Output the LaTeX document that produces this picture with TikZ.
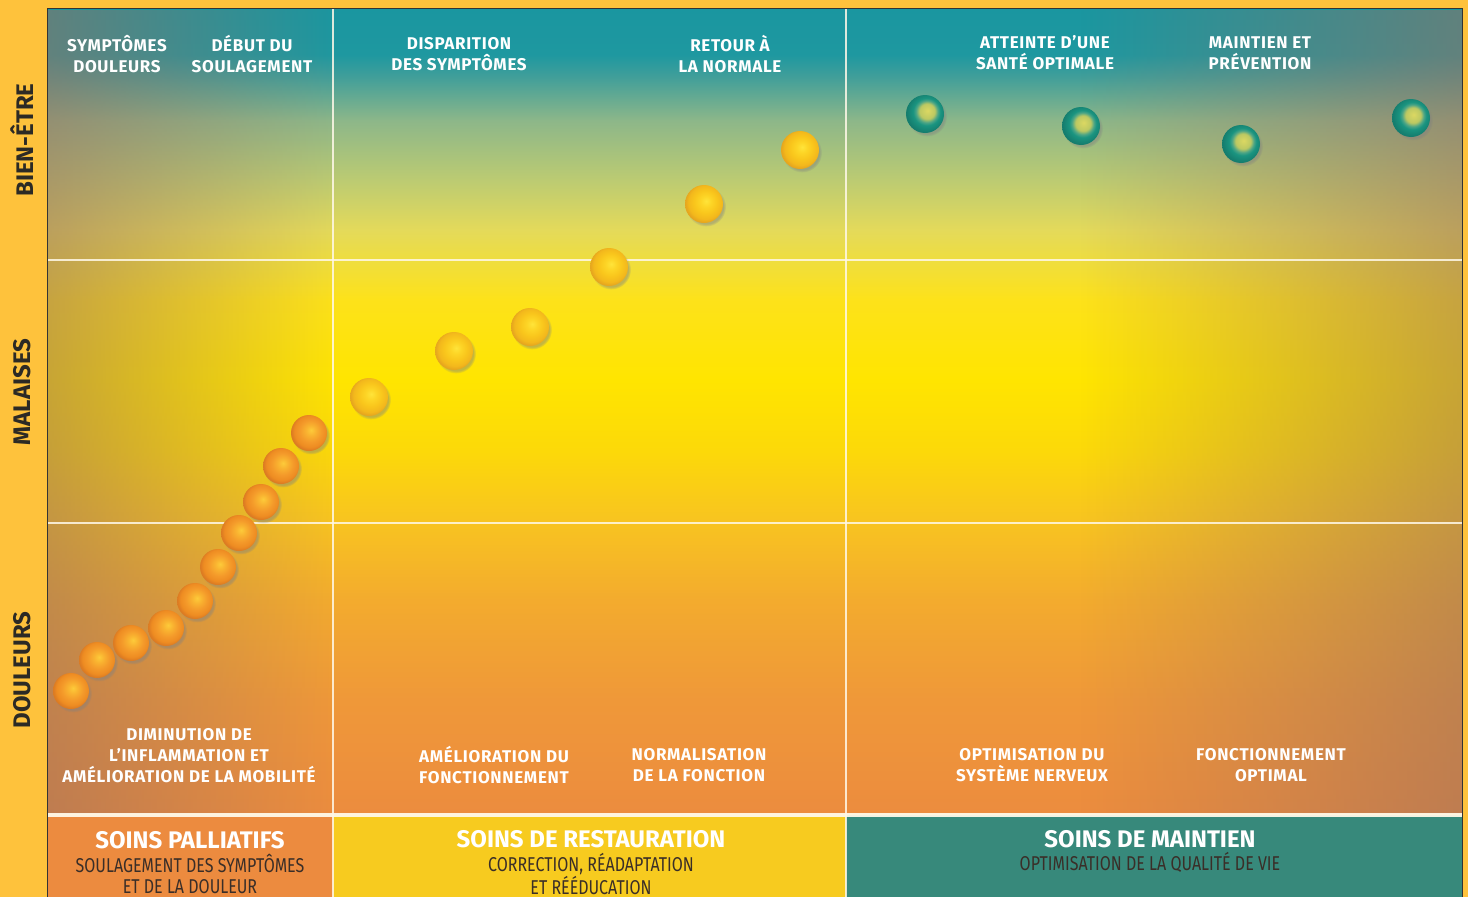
\documentclass[tikz,border=0pt]{standalone}
\usepackage{fontspec}
\setmainfont{Fira Sans}
\newfontfamily\condfont[FakeStretch=0.8]{Fira Sans}
\newfontfamily\labfont[LetterSpace=4]{Fira Sans}
\usetikzlibrary{fadings,shadows}

\definecolor{framebg}{HTML}{FEC23C}
\definecolor{sideText}{HTML}{2C2A25}
\definecolor{subText}{HTML}{3A2E28}
\definecolor{palBox}{HTML}{EC8B3F}
\definecolor{resBox}{HTML}{F7CB1F}
\definecolor{mainBox}{HTML}{37897B}
\definecolor{vignette}{HTML}{9A7060}
\definecolor{gridcol}{HTML}{FFF8E8}

\definecolor{g01}{HTML}{EC8C3E}
\definecolor{g02}{HTML}{EF9839}
\definecolor{g03}{HTML}{F3AB2E}
\definecolor{g04}{HTML}{F8C420}
\definecolor{g05}{HTML}{FCD909}
\definecolor{g06}{HTML}{FFE500}
\definecolor{g07}{HTML}{FDE21A}
\definecolor{g08}{HTML}{E4DA5A}
\definecolor{g09}{HTML}{BCCB72}
\definecolor{g10}{HTML}{8DB789}
\definecolor{g11}{HTML}{3F9E9A}
\definecolor{g12}{HTML}{1E98A0}
\definecolor{g13}{HTML}{1A96A0}

\pgfdeclareverticalshading{bgshade}{100bp}{color(0bp)=(g01); color(25bp)=(g01); color(32bp)=(g02); color(38.2bp)=(g03); color(43.2bp)=(g04); color(47.5bp)=(g05); color(51.9bp)=(g06); color(56.9bp)=(g07); color(61.2bp)=(g08); color(64.3bp)=(g09); color(68bp)=(g10); color(70.8bp)=(g11); color(72.1bp)=(g12); color(75bp)=(g13); color(100bp)=(g13)}

\definecolor{oHi}{HTML}{FDCB3A}
\definecolor{oHi2}{HTML}{F9B230}
\definecolor{oMid}{HTML}{F49A2A}
\definecolor{oOut}{HTML}{EE8C22}
\definecolor{oEdge}{HTML}{DC7B22}
\definecolor{yHi}{HTML}{FFE43A}
\definecolor{yHi2}{HTML}{FDD526}
\definecolor{yMid}{HTML}{F9C61C}
\definecolor{yOut}{HTML}{F3B81C}
\definecolor{yEdge}{HTML}{E6A61E}
\definecolor{tHi}{HTML}{DCD862}
\definecolor{tHi2}{HTML}{BCC862}
\definecolor{tMid}{HTML}{4AA486}
\definecolor{tOut}{HTML}{1A9480}
\definecolor{tEdge}{HTML}{157D6E}

\pgfdeclareradialshading{ballO}{\pgfpoint{3bp}{4bp}}{color(0bp)=(oHi); color(7bp)=(oHi2); color(15bp)=(oMid); color(22bp)=(oOut); color(26bp)=(oEdge); color(50bp)=(oEdge)}
\pgfdeclareradialshading{ballY}{\pgfpoint{3bp}{4bp}}{color(0bp)=(yHi); color(7bp)=(yHi2); color(15bp)=(yMid); color(22bp)=(yOut); color(26bp)=(yEdge); color(50bp)=(yEdge)}
\pgfdeclareradialshading{ballT}{\pgfpoint{3.5bp}{4.5bp}}{color(0bp)=(tHi); color(10bp)=(tHi2); color(14.5bp)=(tMid); color(18bp)=(tOut); color(26bp)=(tEdge); color(50bp)=(tEdge)}

\tikzfading[name=fadeRight, left color=transparent!0, right color=transparent!100]
\tikzfading[name=fadeLeft, left color=transparent!100, right color=transparent!0]

\tikzset{
  ballbase/.style={circle, inner sep=0pt, minimum size=36pt, shade,
    circular drop shadow={shadow xshift=2pt, shadow yshift=-2.5pt, shadow scale=1.05, opacity=.45}},
  orangeball/.style={ballbase, shading=ballO},
  yellowball/.style={ballbase, shading=ballY, minimum size=38pt},
  tealball/.style={ballbase, shading=ballT, minimum size=38pt},
  lab/.style={text=white, font=\labfont\fontsize{17}{21}\selectfont\bfseries, align=center, inner sep=0pt},
  sidelab/.style={text=sideText, font=\fontsize{24}{28}\selectfont\bfseries, rotate=90, inner sep=0pt},
  boxtitle/.style={text=white, font=\fontsize{24}{28}\selectfont\bfseries, align=center, inner sep=0pt},
  boxsub/.style={text=subText, font=\condfont\fontsize{20}{21}\selectfont, align=center, inner sep=0pt},
  gridline/.style={gridcol, opacity=.85, line width=1.6pt},
}

\begin{document}
\begin{tikzpicture}[x=1pt,y=-1pt]
\useasboundingbox (0,0) rectangle (1468,897);
\fill[framebg] (0,0) rectangle (1468,897);

% main gradient area
\shade[shading=bgshade] (47,8) rectangle (1462,813);
\fill[vignette, opacity=.55, path fading=fadeRight] (47,8) rectangle (340,813);
\fill[vignette, opacity=.55, path fading=fadeLeft] (1080,8) rectangle (1462,813);

% bottom boxes
\fill[palBox] (47,815) rectangle (333,897);
\fill[resBox] (333,815) rectangle (846,897);
\fill[mainBox] (846,815) rectangle (1462,897);

% grid lines
\draw[gridline] (47,260) -- (1462,260);
\draw[gridline] (47,523) -- (1462,523);
\draw[gridline] (333,8) -- (333,897);
\draw[gridline] (846,8) -- (846,897);
\draw[gridcol, opacity=.95, line width=3.5pt] (47,815) -- (1462,815);

% frame
\draw[black!80, line width=0.8pt] (47,897) -- (47,8) -- (1462,8) -- (1462,897);

% side labels
\node[sidelab] (be) at (22,140) {BIEN-ÊTRE};
\node[sidelab] (ma) at (22,392) {MALAISES};
\node[sidelab] (do) at (22,670) {DOULEURS};

% top labels
\node[lab] (t1) at (117,54) {SYMPTÔMES\\DOULEURS};
\node[lab] (t2) at (252,54) {DÉBUT DU\\SOULAGEMENT};
\node[lab] (t3) at (459,54) {DISPARITION\\DES SYMPTÔMES};
\node[lab] (t4) at (730,54) {RETOUR À\\LA NORMALE};
\node[lab] (t5) at (1045,53) {ATTEINTE D’UNE\\SANTÉ OPTIMALE};
\node[lab] (t6) at (1260,53) {MAINTIEN ET\\PRÉVENTION};

% bottom labels
\node[lab] (l1) at (189,756) {DIMINUTION DE\\L’INFLAMMATION ET\\AMÉLIORATION DE LA MOBILITÉ};
\node[lab] (l2) at (494,765) {AMÉLIORATION DU\\FONCTIONNEMENT};
\node[lab] (l3) at (699,765) {NORMALISATION\\DE LA FONCTION};
\node[lab] (l4) at (1032,765) {OPTIMISATION DU\\SYSTÈME NERVEUX};
\node[lab] (l5) at (1271,765) {FONCTIONNEMENT\\OPTIMAL};

% balls
\node[orangeball] (o1) at (71,691) {};
\node[orangeball] (o2) at (97,660) {};
\node[orangeball] (o3) at (131,643) {};
\node[orangeball] (o4) at (166,628) {};
\node[orangeball] (o5) at (195,601) {};
\node[orangeball] (o6) at (218,567) {};
\node[orangeball] (o7) at (239,533) {};
\node[orangeball] (o8) at (261,502) {};
\node[orangeball] (o9) at (281,466) {};
\node[orangeball] (o10) at (309,433) {};
\node[yellowball] (y1) at (369,397) {};
\node[yellowball] (y2) at (454,351) {};
\node[yellowball] (y3) at (530,327) {};
\node[yellowball] (y4) at (609,267) {};
\node[yellowball] (y5) at (704,204) {};
\node[yellowball] (y6) at (800,150) {};
\node[tealball] (s1) at (925,114) {};
\node[tealball] (s2) at (1081,126) {};
\node[tealball] (s3) at (1241,144) {};
\node[tealball] (s4) at (1411,118) {};

% bottom box texts
\node[boxtitle] (p1) at (190,840) {SOINS PALLIATIFS};
\node[boxsub] (p2) at (190,874) {SOULAGEMENT DES SYMPTÔMES\\ET DE LA DOULEUR};
\node[boxtitle] (r1) at (591,839) {SOINS DE RESTAURATION};
\node[boxsub] (r2) at (591,874) {CORRECTION, RÉADAPTATION\\ET RÉÉDUCATION};
\node[boxtitle] (m1) at (1150,839) {SOINS DE MAINTIEN};
\node[boxsub] (m2) at (1150,862) {OPTIMISATION DE LA QUALITÉ DE VIE};
\end{tikzpicture}
\end{document}
